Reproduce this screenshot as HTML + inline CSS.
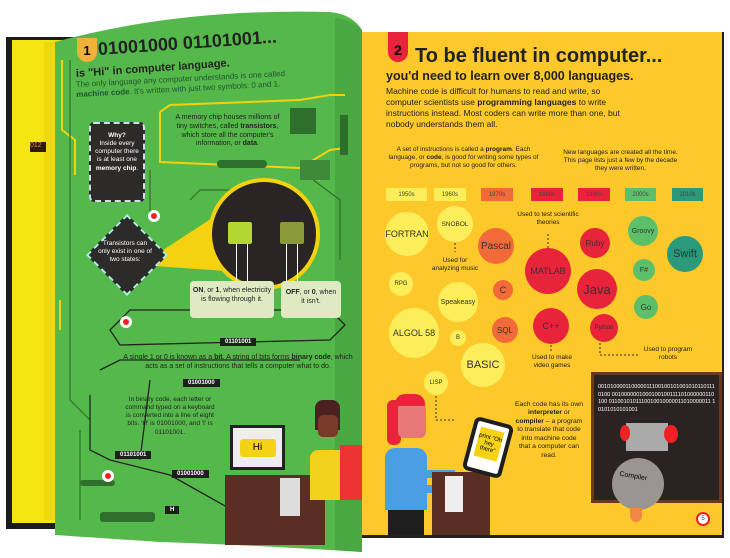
<!DOCTYPE html>
<html><head><meta charset="utf-8">
<style>
*{margin:0;padding:0;box-sizing:border-box}
body{width:730px;height:558px;background:#fff;position:relative;overflow:hidden;font-family:"Liberation Sans",sans-serif}
.a{position:absolute}
.t{position:absolute;color:#222;text-align:center;line-height:1.25}
.b{position:absolute;border-radius:50%;display:flex;align-items:center;justify-content:center;color:#333;font-size:9px}
.dec{position:absolute;top:188px;height:13px;font-size:6px;display:flex;align-items:center;justify-content:center;color:#444}
.tag{position:absolute;background:#1e1e1e;color:#fff;font-size:6px;padding:1px 5px;font-weight:bold}
</style></head><body>
<!-- cover -->
<div class="a" style="left:6px;top:37px;width:360px;height:492px;background:#1c1c1c"></div>
<div class="a" style="left:12px;top:40px;width:50px;height:483px;background:#f5e612"></div>
<div class="a" style="left:44px;top:42px;width:14px;height:478px;background:#f1d80e"></div>
<div class="a" style="left:30px;top:142px;width:16px;height:10px;background:#2a1a10;color:#e83;font-size:7px">012</div>
<div class="a" style="left:360px;top:32px;width:364px;height:506px;background:#222"></div>
<!-- green page -->
<svg class="a" style="left:0;top:0" width="730" height="558">
<path d="M55 42 Q180 8 330 12 Q352 14 362 30 L362 552 Q250 545 160 542 Q100 538 55 535 Z" fill="#55b84a"/>
<path d="M335 18 Q352 20 362 30 L362 552 L335 550 Z" fill="#4aa843"/>
<g stroke="#f2d20e" stroke-width="2" fill="none">
<path d="M62 60 L62 130 L75 140 L75 175"/>
<path d="M160 112 L170 105 L300 100 L330 95 L345 95"/>
<path d="M160 112 L160 162 L300 168 L330 150 L345 148"/>
<path d="M60 300 L60 330"/>
<path d="M300 168 L320 180"/>
</g>
<g stroke="#2e6f2c" stroke-width="1.2" fill="none">
<path d="M70 60 L70 400 L90 420"/>
<path d="M150 170 L150 220"/>
<path d="M190 200 L200 190 L240 190"/>
<path d="M300 170 L340 200 L340 260"/>
<path d="M80 430 L80 520"/>
</g>
<path d="M140 265 L240 200 L240 272 Z" fill="#f5d20f"/>
<g stroke="#222" stroke-width="1.3" fill="none">
<path d="M110 330 L130 310 L330 310 L345 325 L330 340 L120 345 Z"/>
<path d="M100 370 L120 360 L300 360"/>
<path d="M90 395 L90 450 L110 460 L170 475 L250 520"/>
<path d="M150 380 L140 460"/>
</g>
<rect x="300" y="160" width="30" height="20" fill="#3f8a3a"/>
<rect x="290" y="108" width="26" height="26" fill="#2e6f2c"/>
<rect x="217" y="160" width="50" height="8" rx="4" fill="#2e6f2c"/>
<rect x="80" y="480" width="35" height="6" rx="3" fill="#2e6f2c"/>
<rect x="100" y="512" width="55" height="10" rx="3" fill="#2e6f2c"/>
<rect x="340" y="115" width="8" height="40" fill="#2e6f2c"/>
</svg>
<div class="a" style="left:77px;top:38px;width:20px;height:24px;background:#f0b13a;border-radius:0 0 10px 10px;font-weight:bold;font-size:13px;text-align:center;padding-top:5px">1</div>
<div class="t" style="left:98px;top:38px;font-size:18px;font-weight:bold;transform:rotate(-4deg);transform-origin:left">01001000 01101001...</div>
<div class="t" style="left:76px;top:68px;font-size:11px;font-weight:bold;transform:rotate(-4deg);transform-origin:left">is "Hi" in computer language.</div>
<div class="t" style="left:76px;top:80px;width:220px;font-size:8px;text-align:left;transform:rotate(-3deg);transform-origin:left;color:#253">The only language any computer understands is one called <b>machine code</b>. It's written with just two symbols: 0 and 1.</div>
<div class="t" style="left:170px;top:114px;width:115px;font-size:7px">A memory chip houses millions of tiny switches, called <b>transistors</b>, which store all the computer's information, or <b>data</b>.</div>
<div class="a" style="left:89px;top:122px;width:56px;height:80px;background:#2d2a2a;border:2px dashed #cde;border-radius:5px"></div>
<div class="t" style="left:94px;top:132px;width:46px;font-size:6.5px;color:#fff"><b>Why?</b><br>Inside every computer there is at least one <b>memory chip</b>.</div>
<div class="a" style="left:98px;top:226px;width:58px;height:58px;background:#2d2a2a;transform:rotate(45deg);border:2px dashed #aed"></div>
<div class="t" style="left:97px;top:240px;width:56px;font-size:6.5px;color:#fff">Transistors can only exist in one of two states:</div>
<div class="a" style="left:148px;top:210px;width:12px;height:12px;border-radius:50%;background:#e22;border:3px solid #fff"></div>
<div class="a" style="left:120px;top:316px;width:12px;height:12px;border-radius:50%;background:#e22;border:3px solid #fff"></div>
<div class="a" style="left:102px;top:470px;width:12px;height:12px;border-radius:50%;background:#e22;border:3px solid #fff"></div>
<!-- black circle -->
<div class="a" style="left:208px;top:178px;width:112px;height:112px;border-radius:50%;background:#2a2525;border:4px solid #f5d20f"></div>
<div class="a" style="left:228px;top:222px;width:24px;height:22px;background:#b4d632;border-radius:2px"></div>
<div class="a" style="left:280px;top:222px;width:24px;height:22px;background:#8a9a38;border-radius:2px"></div>
<div class="a" style="left:236px;top:244px;width:12px;height:40px;border-left:1px solid #fff;border-right:1px solid #fff"></div>
<div class="a" style="left:286px;top:244px;width:12px;height:40px;border-left:1px solid #fff;border-right:1px solid #fff"></div>
<div class="a" style="left:190px;top:281px;width:84px;height:37px;background:#dfeac2;border-radius:4px"></div>
<div class="t" style="left:192px;top:287px;width:80px;font-size:7px"><b>ON</b>, or <b>1</b>, when electricity is flowing through it.</div>
<div class="a" style="left:281px;top:281px;width:60px;height:37px;background:#dfeac2;border-radius:4px"></div>
<div class="t" style="left:283px;top:289px;width:56px;font-size:7px"><b>OFF</b>, or <b>0</b>, when it isn't.</div>
<div class="tag" style="left:220px;top:338px">01101001</div>
<div class="t" style="left:118px;top:354px;width:240px;font-size:7px">A single 1 or 0 is known as a <b>bit</b>. A string of bits forms <b>binary code</b>, which acts as a set of instructions that tells a computer what to do.</div>
<div class="tag" style="left:183px;top:379px">01001000</div>
<div class="t" style="left:125px;top:396px;width:90px;font-size:6.5px">In binary code, each letter or command typed on a keyboard is converted into a line of eight bits. 'H' is 01001000, and 'I' is 01101001.</div>
<div class="tag" style="left:115px;top:451px">01101001</div>
<div class="tag" style="left:172px;top:470px">01001000</div>
<div class="tag" style="left:165px;top:506px">H</div>
<!-- monitor -->
<div class="a" style="left:230px;top:425px;width:55px;height:45px;background:#222;padding:3px"><div style="background:#eee;width:100%;height:100%;display:flex;align-items:center;justify-content:center"><div style="background:#f4d215;width:36px;height:18px;border-radius:3px;font-size:10px;text-align:center;line-height:18px">Hi</div></div></div>
<div class="a" style="left:225px;top:475px;width:100px;height:70px;background:#5a2e22"></div>
<div class="a" style="left:280px;top:478px;width:20px;height:38px;background:#ddd"></div>
<div class="a" style="left:315px;top:400px;width:25px;height:30px;background:#4a2020;border-radius:8px 8px 0 0"></div>
<div class="a" style="left:318px;top:415px;width:20px;height:22px;background:#7a3a2a;border-radius:5px"></div>
<div class="a" style="left:310px;top:450px;width:52px;height:50px;background:#f2d21c;border-radius:8px 8px 0 0"></div>
<div class="a" style="left:340px;top:445px;width:22px;height:55px;background:#e33"></div>
<!-- yellow page -->
<div class="a" style="left:362px;top:32px;width:360px;height:503px;background:#fcc82a"></div>
<div class="a" style="left:388px;top:32px;width:20px;height:30px;background:#e8243b;border-radius:0 0 10px 10px;font-weight:bold;font-size:14px;text-align:center;padding-top:10px">2</div>
<div class="t" style="left:415px;top:44px;font-size:20px;font-weight:bold;text-align:left">To be fluent in computer...</div>
<div class="t" style="left:386px;top:69px;font-size:12.5px;font-weight:bold;text-align:left">you'd need to learn over 8,000 languages.</div>
<div class="t" style="left:386px;top:86px;width:250px;font-size:8.5px;text-align:left;line-height:1.3">Machine code is difficult for humans to read and write, so computer scientists use <b>programming languages</b> to write instructions instead. Most coders can write more than one, but nobody understands them all.</div>
<div class="t" style="left:386px;top:146px;width:155px;font-size:6.5px">A set of instructions is called a <b>program</b>. Each language, or <b>code</b>, is good for writing some types of programs, but not so good for others.</div>
<div class="t" style="left:563px;top:149px;width:115px;font-size:6.5px">New languages are created all the time. This page lists just a few by the decade they were written.</div>
<div class="dec" style="left:386px;width:41px;background:#fcee5a">1950s</div>
<div class="dec" style="left:434px;width:32px;background:#fcee5a">1960s</div>
<div class="dec" style="left:481px;width:32px;background:#f26a3a">1970s</div>
<div class="dec" style="left:531px;width:32px;background:#e8243b">1980s</div>
<div class="dec" style="left:578px;width:32px;background:#e8243b">1990s</div>
<div class="dec" style="left:625px;width:31px;background:#5dbf6a">2000s</div>
<div class="dec" style="left:672px;width:31px;background:#2a9a7a">2010s</div>
<div class="b" style="left:385px;top:212px;width:44px;height:44px;background:#fcee5a">FORTRAN</div>
<div class="b" style="left:437px;top:206px;width:36px;height:36px;background:#fcee5a;font-size:6.5px">SNOBOL</div>
<div class="t" style="left:430px;top:257px;width:50px;font-size:6.5px">Used for analyzing music</div>
<div class="b" style="left:478px;top:228px;width:36px;height:36px;background:#f26a3a;font-size:10px">Pascal</div>
<div class="t" style="left:517px;top:211px;width:62px;font-size:6.5px">Used to test scientific theories</div>
<div class="b" style="left:525px;top:248px;width:46px;height:46px;background:#e8243b;font-size:9px">MATLAB</div>
<div class="b" style="left:580px;top:228px;width:30px;height:30px;background:#e8243b;font-size:8px">Ruby</div>
<div class="b" style="left:628px;top:216px;width:30px;height:30px;background:#5dbf6a;font-size:7px">Groovy</div>
<div class="b" style="left:667px;top:236px;width:36px;height:36px;background:#2a9a7a;font-size:11px">Swift</div>
<div class="b" style="left:633px;top:259px;width:22px;height:22px;background:#5dbf6a;font-size:7px">F#</div>
<div class="b" style="left:577px;top:269px;width:40px;height:40px;background:#e8243b;font-size:13px">Java</div>
<div class="b" style="left:634px;top:295px;width:24px;height:24px;background:#5dbf6a;font-size:8px">Go</div>
<div class="b" style="left:493px;top:280px;width:20px;height:20px;background:#f26a3a">C</div>
<div class="b" style="left:438px;top:282px;width:40px;height:40px;background:#fcee5a;font-size:7px">Speakeasy</div>
<div class="b" style="left:389px;top:272px;width:24px;height:24px;background:#fcee5a;font-size:6px">RPG</div>
<div class="b" style="left:389px;top:308px;width:50px;height:50px;background:#fcee5a;font-size:9px">ALGOL 58</div>
<div class="b" style="left:450px;top:330px;width:16px;height:16px;background:#fcee5a;font-size:6px">B</div>
<div class="b" style="left:492px;top:317px;width:26px;height:26px;background:#f26a3a;font-size:8px">SQL</div>
<div class="b" style="left:533px;top:308px;width:36px;height:36px;background:#e8243b;font-size:9px">C++</div>
<div class="b" style="left:590px;top:314px;width:28px;height:28px;background:#e8243b;font-size:6px">Python</div>
<div class="t" style="left:643px;top:346px;width:50px;font-size:6.5px">Used to program robots</div>
<div class="b" style="left:461px;top:343px;width:44px;height:44px;background:#fcee5a;font-size:11px">BASIC</div>
<div class="t" style="left:527px;top:354px;width:50px;font-size:6.5px">Used to make video games</div>
<div class="b" style="left:424px;top:371px;width:24px;height:24px;background:#fcee5a;font-size:6px">LISP</div>
<svg class="a" style="left:0;top:0" width="730" height="558">
<g stroke="#333" stroke-width="1" stroke-dasharray="2,2" fill="none">
<path d="M455 243 L455 252"/><path d="M548 248 L548 232"/><path d="M551 345 L551 352"/>
<path d="M600 343 L600 355 L640 355"/><path d="M436 396 L436 420 L455 420"/>
</g></svg>
<div class="t" style="left:515px;top:401px;width:68px;font-size:6.8px">Each code has its own <b>interpreter</b> or <b>compiler</b> – a program to translate that code into machine code that a computer can read.</div>
<!-- blackboard -->
<div class="a" style="left:591px;top:372px;width:131px;height:131px;background:#2a2322;border:3px solid #6a3a20"></div>
<div class="t" style="left:598px;top:384px;width:118px;font-size:5.5px;color:#fff;text-align:left;word-break:break-all;line-height:1.4">0010100001100000111001001010010101101110100 0010000001000100100111101000000110100 0110010101110010010000011010000011 10101010101001</div>
<div class="a" style="left:626px;top:423px;width:42px;height:28px;background:#aaa"></div>
<div class="a" style="left:620px;top:425px;width:10px;height:16px;background:#e22;border-radius:50%"></div>
<div class="a" style="left:664px;top:425px;width:14px;height:18px;background:#e22;border-radius:50%"></div>
<div class="a" style="left:612px;top:458px;width:52px;height:52px;background:#9a9590;border-radius:50%;font-size:7px;padding:16px 6px;transform:rotate(10deg)">Compiler</div>
<div class="a" style="left:630px;top:508px;width:12px;height:14px;background:#e84;border-radius:0 0 50% 50%"></div>
<div class="b" style="left:696px;top:512px;width:14px;height:14px;background:#fff;border:2px solid #e22;font-size:6px">5</div>
<!-- girl -->
<div class="a" style="left:387px;top:400px;width:14px;height:45px;background:#e8243b;border-radius:6px"></div>
<div class="a" style="left:398px;top:398px;width:28px;height:40px;background:#e87878;border-radius:10px 12px 6px 6px"></div>
<div class="a" style="left:395px;top:394px;width:30px;height:12px;background:#e8243b;border-radius:10px 10px 0 0"></div>
<div class="a" style="left:385px;top:448px;width:42px;height:62px;background:#4b9ee4;border-radius:10px 10px 0 0"></div>
<div class="a" style="left:400px;top:470px;width:55px;height:8px;background:#4b9ee4"></div>
<div class="a" style="left:400px;top:485px;width:55px;height:8px;background:#4b9ee4"></div>
<div class="a" style="left:388px;top:510px;width:36px;height:25px;background:#1e1e1e"></div>
<div class="a" style="left:432px;top:472px;width:58px;height:63px;background:#5a2e22"></div>
<div class="a" style="left:445px;top:476px;width:18px;height:36px;background:#eee"></div>
<div class="a" style="left:468px;top:420px;width:40px;height:55px;background:#fff;border:4px solid #1e1e1e;border-radius:6px;transform:rotate(15deg)"><div style="background:#f4d215;margin:5px 4px;height:30px;font-size:6px;text-align:center;padding-top:6px">print "Oh hey there"</div></div>
</body></html>
